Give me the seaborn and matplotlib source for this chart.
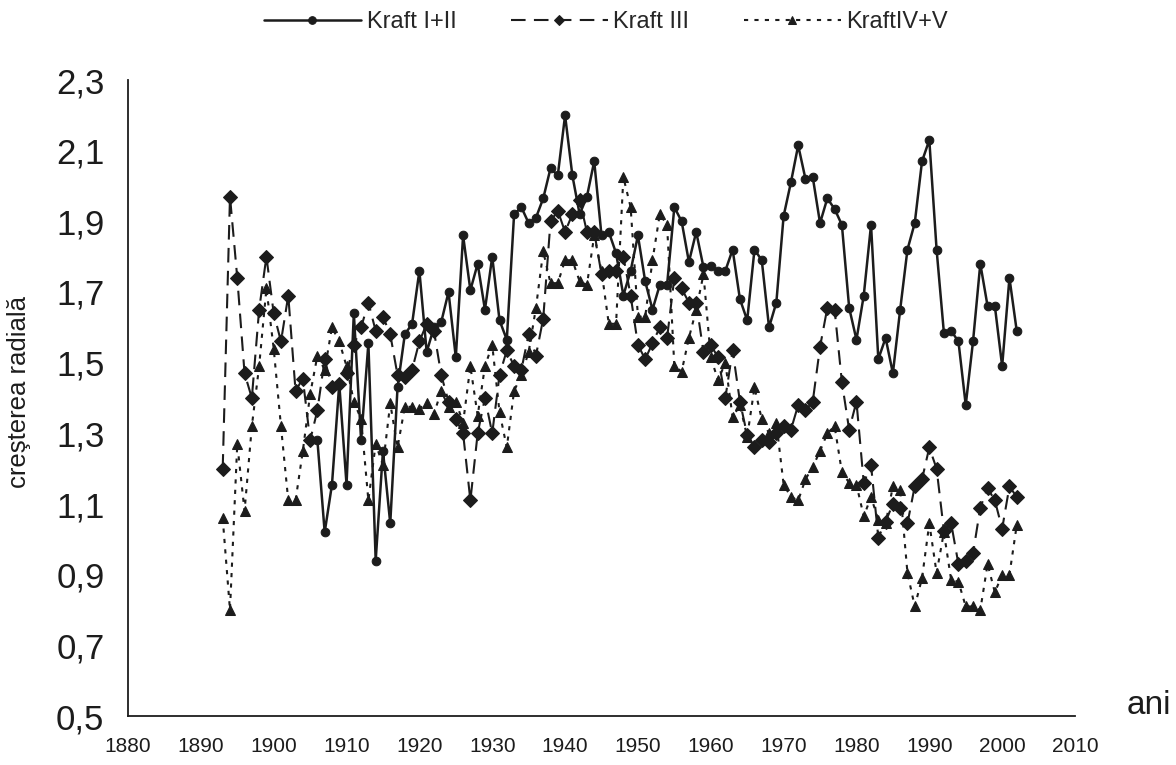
import numpy as np
import pandas as pd
import matplotlib
matplotlib.use("Agg")
import matplotlib.pyplot as plt
from matplotlib import font_manager
import seaborn as sns

# ---------------- data ----------------
years_12 = list(range(1905, 2003))
kraft_12 = [1.28, 1.28, 1.02, 1.155, 1.44, 1.155, 1.64, 1.28, 1.555, 0.94,
            1.25, 1.045, 1.43, 1.58, 1.61, 1.76, 1.53, 1.60, 1.615, 1.70,
            1.515, 1.86, 1.705, 1.78, 1.65, 1.80, 1.62, 1.565, 1.92, 1.94,
            1.895, 1.91, 1.965, 2.05, 2.03, 2.20,
            2.03, 1.92, 1.97, 2.07, 1.86, 1.87, 1.81, 1.69, 1.76, 1.86,
            1.73, 1.65, 1.72, 1.72, 1.94, 1.90, 1.785, 1.87, 1.77, 1.775,
            1.76, 1.76, 1.82, 1.68, 1.62, 1.82, 1.79, 1.60, 1.67, 1.915,
            2.01, 2.115, 2.02, 2.025, 1.895, 1.965, 1.935, 1.89, 1.655, 1.565,
            1.69, 1.89, 1.51, 1.57, 1.47, 1.65, 1.82, 1.895, 2.07, 2.13,
            1.82, 1.585, 1.59, 1.56, 1.38, 1.56, 1.78, 1.66, 1.66, 1.49,
            1.74, 1.59]

years_3 = list(range(1893, 2003))
kraft_3 = [1.20, 1.97, 1.74, 1.47, 1.40, 1.65, 1.80, 1.64, 1.56, 1.69,
           1.42, 1.455, 1.28, 1.365, 1.51, 1.43, 1.44, 1.47, 1.55, 1.60,
           1.67, 1.59, 1.63, 1.58, 1.465, 1.46, 1.48, 1.56, 1.61, 1.59,
           1.465, 1.39, 1.34, 1.30, 1.11, 1.30, 1.40, 1.30, 1.465, 1.535,
           1.49, 1.48, 1.58, 1.52, 1.625, 1.90, 1.93, 1.87, 1.92, 1.96,
           1.87, 1.87, 1.75, 1.76, 1.76, 1.80, 1.69, 1.55, 1.51, 1.555,
           1.60, 1.57, 1.74, 1.71, 1.67, 1.67, 1.53, 1.55, 1.515, 1.40,
           1.535, 1.39, 1.295, 1.26, 1.28, 1.275, 1.30, 1.32, 1.31, 1.38,
           1.365, 1.39, 1.545, 1.655, 1.65, 1.445, 1.31, 1.39, 1.16, 1.21,
           1.005, 1.05, 1.10, 1.09, 1.045, 1.15, 1.17, 1.26, 1.20, 1.025,
           1.045, 0.93, 0.94, 0.96, 1.09, 1.145, 1.11, 1.03, 1.15, 1.12]

years_45 = list(range(1893, 2003))
kraft_45 = [1.06, 0.80, 1.27, 1.08, 1.32, 1.49, 1.71, 1.54, 1.32, 1.11,
            1.11, 1.25, 1.41, 1.52, 1.48, 1.60, 1.56, 1.49, 1.39, 1.34,
            1.11, 1.27, 1.21, 1.385, 1.26, 1.375, 1.375, 1.37, 1.385, 1.355,
            1.42, 1.375, 1.39, 1.33, 1.49, 1.35, 1.49, 1.55, 1.36, 1.26,
            1.42, 1.465, 1.53, 1.655, 1.815, 1.725, 1.725, 1.79, 1.79, 1.73,
            1.72, 1.86, 1.76, 1.61, 1.61, 2.025, 1.94, 1.63, 1.63, 1.79,
            1.92, 1.89, 1.49, 1.475, 1.57, 1.65, 1.75, 1.515, 1.45, 1.50,
            1.345, 1.38, 1.29, 1.43, 1.34, 1.30, 1.33, 1.155, 1.12, 1.11,
            1.17, 1.205, 1.25, 1.30, 1.32, 1.19, 1.16, 1.155, 1.065, 1.12,
            1.055, 1.045, 1.15, 1.14, 0.905, 0.81, 0.89, 1.045, 0.905, 1.02,
            0.885, 0.88, 0.81, 0.81, 0.80, 0.93, 0.85, 0.90, 0.90, 1.04]

series_labels = ["Kraft I+II", "Kraft III", "KraftIV+V"]
x_ticks = list(range(1880, 2011, 10))
y_ticks = [0.5, 0.7, 0.9, 1.1, 1.3, 1.5, 1.7, 1.9, 2.1, 2.3]
y_tick_labels = ["0,5", "0,7", "0,9", "1,1", "1,3", "1,5", "1,7", "1,9", "2,1", "2,3"]
x_label = "ani"
y_label = "creşterea radială"

# ---------------- plot ----------------
sns.set_style("white")
plt.rcParams["font.family"] = ["Liberation Sans", "DejaVu Sans"]

installed = {f.name for f in font_manager.fontManager.ttflist}
has_narrow = "Liberation Sans Narrow" in installed
narrow = (["Liberation Sans Narrow"] if has_narrow else []) + ["Liberation Sans", "DejaVu Sans"]

fig = plt.figure(figsize=(11.76, 7.65), dpi=100)
ax = fig.add_axes([128 / 1176, 1 - 716 / 765, (1075 - 128) / 1176, (716 - 80) / 765])

ink = "#1c1c1c"

df12 = pd.DataFrame({"an": years_12, "v": kraft_12})
df3 = pd.DataFrame({"an": years_3, "v": kraft_3})
df45 = pd.DataFrame({"an": years_45, "v": kraft_45})

sns.lineplot(data=df12, x="an", y="v", ax=ax, color=ink, lw=1.8,
             marker="o", markersize=6.2, markeredgecolor=ink,
             label=series_labels[0], errorbar=None)
sns.lineplot(data=df3, x="an", y="v", ax=ax, color=ink, lw=1.5,
             marker="D", markersize=6.8, markeredgecolor=ink,
             label=series_labels[1], errorbar=None)
sns.lineplot(data=df45, x="an", y="v", ax=ax, color=ink, lw=1.5,
             marker="^", markersize=7.5, markeredgecolor=ink,
             label=series_labels[2], errorbar=None)

lines = ax.get_lines()
lines[1].set_dashes([7, 4])
lines[2].set_dashes([2, 3])

ax.set_xlim(1880, 2010)
ax.set_ylim(0.5, 2.3)
ax.set_xticks(x_ticks)
ax.set_xticklabels([str(t) for t in x_ticks], fontsize=17 if has_narrow else 15,
                   family=narrow)
ax.set_yticks(y_ticks)
ax.set_yticklabels(y_tick_labels, fontsize=25)
ax.tick_params(axis="both", direction="out", length=7, width=1.2, color=ink,
               labelcolor=ink)
ax.tick_params(axis="x", pad=8)
ax.tick_params(axis="y", pad=10)

for side in ["top", "right"]:
    ax.spines[side].set_visible(False)
for side in ["left", "bottom"]:
    ax.spines[side].set_color(ink)
    ax.spines[side].set_linewidth(1.3)

ax.set_xlabel("")
ax.set_ylabel("")
fig.text(7 / 1176, 1 - 392 / 765, y_label, rotation=90,
         fontsize=20 if has_narrow else 18.5, family=narrow,
         color=ink, va="center", ha="left")
fig.text(1127 / 1176, 1 - 705 / 765, x_label, fontsize=24, color=ink,
         va="center", ha="left")

ax.get_legend().remove()
handles, labels = ax.get_legend_handles_labels()
leg = fig.legend(handles, labels, loc="center", bbox_to_anchor=(606 / 1176, 1 - 22 / 765),
                 ncol=3, frameon=False,
                 prop={"family": narrow, "size": 19 if has_narrow else 17},
                 handlelength=4.1, columnspacing=2.3, handletextpad=0.25)
for lh in leg.get_lines():
    lh.set_markersize(5.5)

fig.savefig("out.png", dpi=100)
